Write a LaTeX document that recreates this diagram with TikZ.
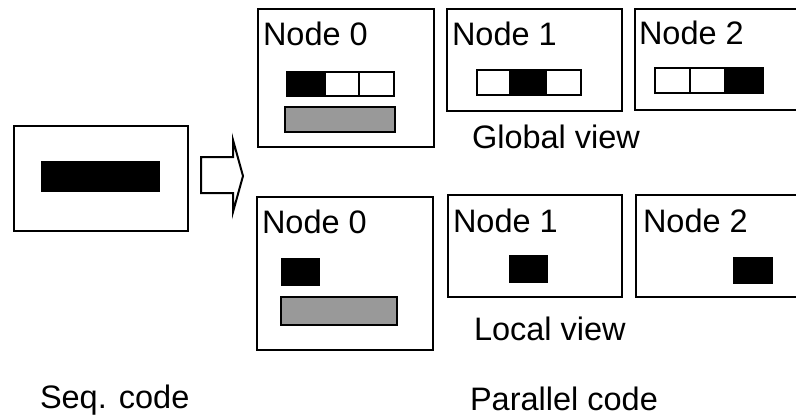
\documentclass[tikz,border=0pt]{standalone}
\usepackage{fontspec}
\setmainfont{Liberation Sans}
\begin{document}
\begin{tikzpicture}[x=1pt,y=-1pt,
  every node/.style={inner sep=0pt, outer sep=0pt},
  frame/.style={draw=black, line width=2pt, fill=white, anchor=north west},
  cell/.style={draw=black, line width=1.8pt, anchor=north west},
  lbl/.style={anchor=base west, font=\fontsize{32.5}{39}\selectfont, text=black}
]
\useasboundingbox (0,0) rectangle (796,416);
\clip (0,0) rectangle (796,416);
\fill[white] (0,0) rectangle (796,416);

% sequential code
\node[frame, minimum width=174pt, minimum height=105pt] (seq) at (14,126) {};
\node[cell, fill=black, minimum width=117pt, minimum height=29pt] (seqbar) at (42,162) {};
\node[lbl] (seqlbl) at (40,408) {Seq. code};

% transformation arrow
\draw[line width=2pt, fill=white, line join=miter]
  (201,157) -- (233,157) -- (233,140) -- (243,176) -- (233,212) -- (233,193) -- (201,193) -- cycle;

% global view
\node[frame, minimum width=176pt, minimum height=138pt] (g0) at (258,9) {};
\node[lbl] (g0t) at (263,45) {Node 0};
\node[cell, fill=black, minimum width=38pt, minimum height=24pt] (g0a) at (287,72) {};
\node[cell, fill=white, minimum width=34pt, minimum height=24pt] (g0b) at (325,72) {};
\node[cell, fill=white, minimum width=35pt, minimum height=24pt] (g0c) at (359,72) {};
\node[cell, fill=black!40, minimum width=110pt, minimum height=25pt] (g0g) at (285,107) {};

\node[frame, minimum width=175pt, minimum height=102pt] (g1) at (447,9) {};
\node[lbl] (g1t) at (452,45) {Node 1};
\node[cell, fill=white, minimum width=33pt, minimum height=25pt] (g1a) at (477,70) {};
\node[cell, fill=black, minimum width=36pt, minimum height=25pt] (g1b) at (510,70) {};
\node[cell, fill=white, minimum width=35pt, minimum height=25pt] (g1c) at (546,70) {};

\node[frame, minimum width=175pt, minimum height=101pt] (g2) at (635,9) {};
\node[lbl] (g2t) at (639,44) {Node 2};
\node[cell, fill=white, minimum width=35pt, minimum height=25pt] (g2a) at (655,68) {};
\node[cell, fill=white, minimum width=35pt, minimum height=25pt] (g2b) at (690,68) {};
\node[cell, fill=black, minimum width=38pt, minimum height=25pt] (g2c) at (725,68) {};

\node[lbl] (gview) at (472,148) {Global view};

% local view
\node[frame, minimum width=176pt, minimum height=153pt] (l0) at (257,197) {};
\node[lbl] (l0t) at (262,233) {Node 0};
\node[cell, fill=black, minimum width=37pt, minimum height=26pt] (l0a) at (282,259) {};
\node[cell, fill=black!40, minimum width=116pt, minimum height=28pt] (l0g) at (281,297) {};

\node[frame, minimum width=174pt, minimum height=102pt] (l1) at (448,195) {};
\node[lbl] (l1t) at (453,232) {Node 1};
\node[cell, fill=black, minimum width=37pt, minimum height=26pt] (l1a) at (510,256) {};

\node[frame, minimum width=175pt, minimum height=102pt] (l2) at (636,195) {};
\node[lbl] (l2t) at (643,232) {Node 2};
\node[cell, fill=black, minimum width=38pt, minimum height=25pt] (l2a) at (734,258) {};

\node[lbl] (lview) at (474,340) {Local view};
\node[lbl] (parlbl) at (470,410) {Parallel code};
\end{tikzpicture}
\end{document}
